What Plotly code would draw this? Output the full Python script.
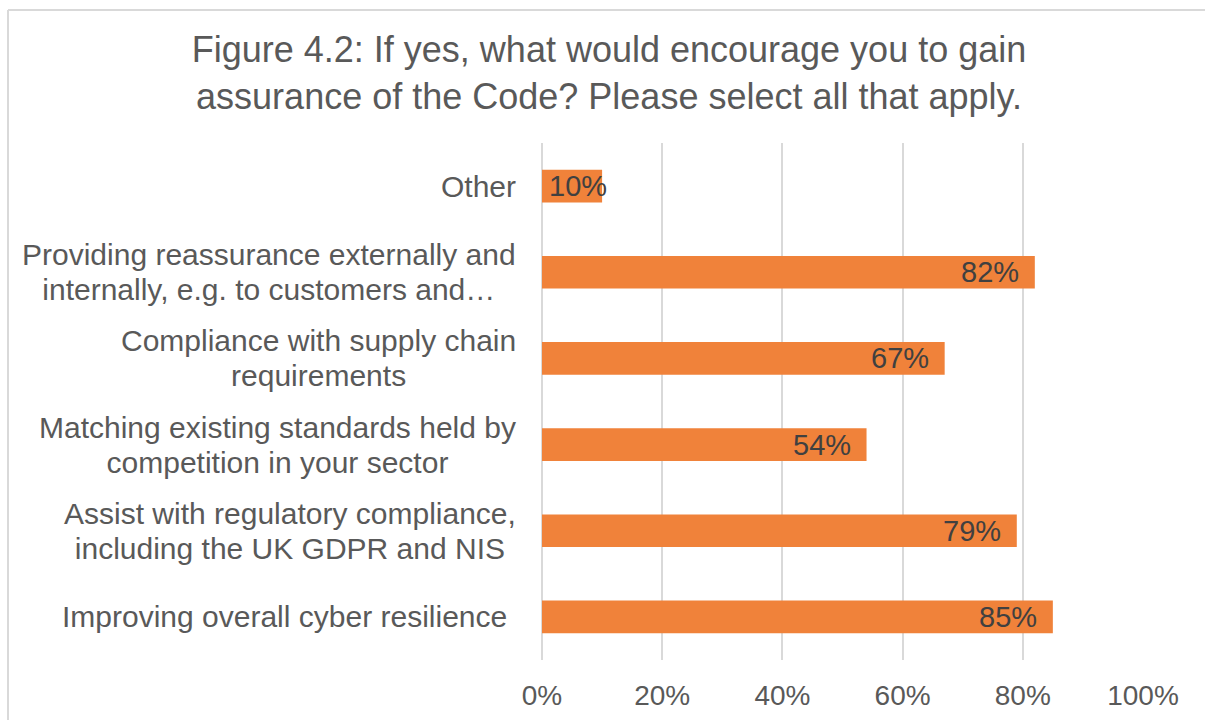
import plotly.graph_objects as go

# Survey responses (share of respondents), listed top to bottom
categories = [
    "Other",
    "Providing reassurance externally and<br>internally, e.g. to customers and…",
    "Compliance with supply chain<br>requirements",
    "Matching existing standards held by<br>competition in your sector",
    "Assist with regulatory compliance,<br>including the UK GDPR and NIS",
    "Improving overall cyber resilience\u00a0",
]
values = [0.10, 0.82, 0.67, 0.54, 0.79, 0.85]
x_ticks = [0, 0.2, 0.4, 0.6, 0.8, 1.0]
x_tick_labels = ["0%", "20%", "40%", "60%", "80%", "100%"]
title_text = ("Figure 4.2: If yes, what would encourage you to gain<br>"
              "assurance of the Code? Please select all that apply.")

BAR = "#F0823A"
TEXT = "#595959"
LABEL = "#404040"
GRID = "#D9D9D9"
FONT = "Liberation Sans, Arial, sans-serif"

W, H = 1205, 720
L, R, T, B = 542, 62, 143, 60
plot_w = W - L - R
plot_h = H - T - B

fig = go.Figure(
    go.Bar(
        x=values,
        y=categories,
        orientation="h",
        marker=dict(color=BAR, line=dict(width=0)),
        hoverinfo="skip",
    )
)

annotations = []

# Category labels: centred lines, block right-aligned next to the axis.
# A smaller base size keeps the line spacing tight; the span sets the glyph size.
for cat in categories:
    annotations.append(dict(
        xref="paper", yref="y", x=0, y=cat,
        text=f'<span style="font-size:30px">{cat}</span>',
        showarrow=False, align="center",
        xanchor="right", yanchor="middle", xshift=-24,
        font=dict(family=FONT, size=27, color=TEXT),
    ))

# Value labels at the inside end of each bar
for cat, v in zip(categories, values):
    short = v < 0.15
    annotations.append(dict(
        xref="x", yref="y",
        x=0 if short else v, y=cat,
        text=f"{round(v * 100)}%", showarrow=False,
        xanchor="left" if short else "right",
        xshift=5 if short else -14,
        yanchor="middle",
        font=dict(family=FONT, size=29, color=LABEL),
    ))

# Light frame around the chart area (top and left edges fall inside the view)
px_to_x = lambda px: (px - L) / plot_w
px_to_y = lambda py: (H - B - py) / plot_h
frame = dict(color=GRID, width=2)
shapes = [
    dict(type="line", xref="paper", yref="paper",
         x0=px_to_x(8), x1=px_to_x(1230), y0=px_to_y(10), y1=px_to_y(10),
         line=frame, layer="below"),
    dict(type="line", xref="paper", yref="paper",
         x0=px_to_x(8), x1=px_to_x(8), y0=px_to_y(10), y1=px_to_y(760),
         line=frame, layer="below"),
]

fig.update_layout(
    width=W, height=H,
    margin=dict(l=L, r=R, t=T, b=B, pad=0),
    paper_bgcolor="white", plot_bgcolor="white",
    bargap=0.62,
    showlegend=False,
    title=dict(
        text=title_text,
        xref="container", yref="container",
        x=609 / W, y=1 - 62 / H,
        xanchor="center", yanchor="middle",
        font=dict(family=FONT, size=36, color=TEXT),
    ),
    xaxis=dict(
        range=[0, 1.0],
        tickvals=x_ticks, ticktext=x_tick_labels,
        showgrid=True, gridcolor=GRID, gridwidth=2,
        zeroline=True, zerolinecolor=GRID, zerolinewidth=2,
        showline=False, ticks="",
        ticklabelstandoff=16,
        automargin=False,
        tickfont=dict(family=FONT, size=28, color=TEXT),
        fixedrange=True,
    ),
    yaxis=dict(
        categoryorder="array", categoryarray=categories,
        autorange="reversed",
        showticklabels=False, showgrid=False, zeroline=False,
        showline=False, ticks="",
        automargin=False,
        fixedrange=True,
    ),
    annotations=annotations,
    shapes=shapes,
)

fig.write_html("out.html", config={"displayModeBar": False})
